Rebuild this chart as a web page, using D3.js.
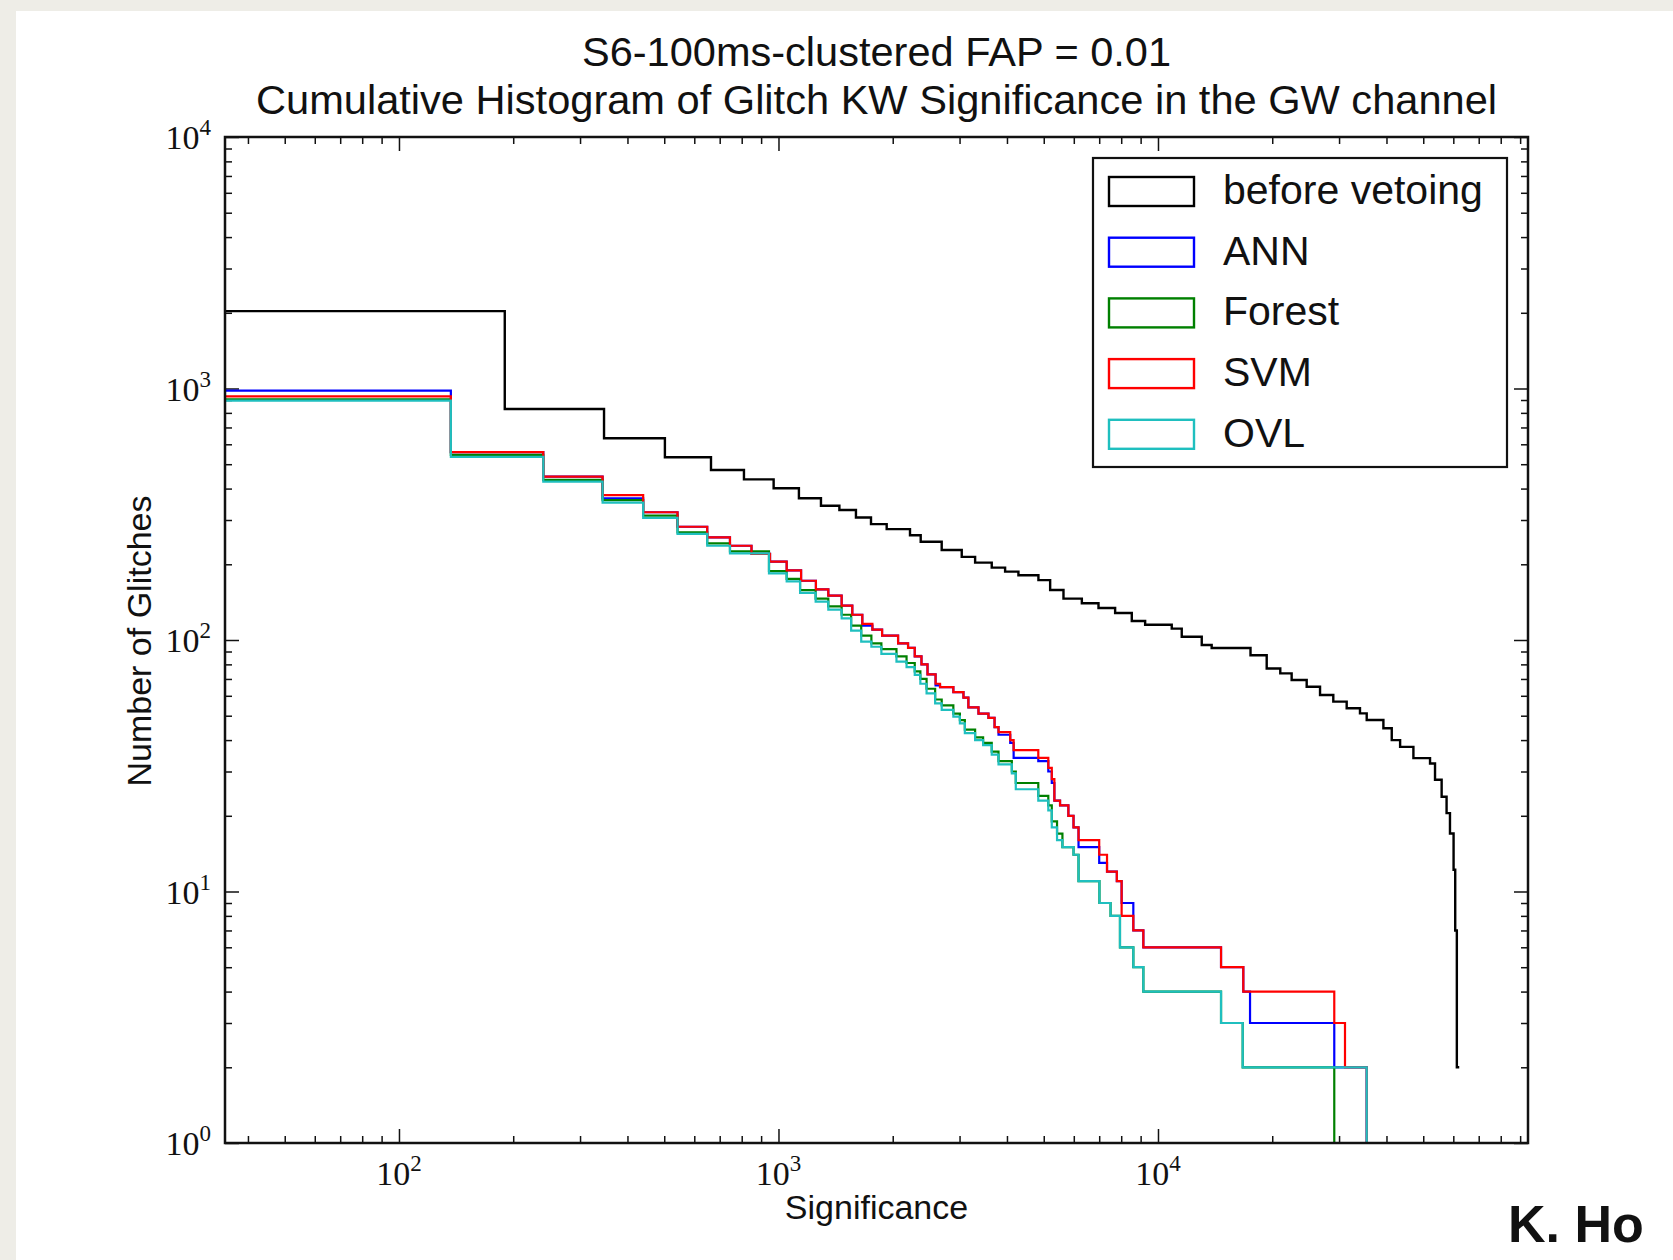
<!DOCTYPE html>
<html lang="en">
<head>
<meta charset="UTF-8">
<title>Cumulative Histogram of Glitch KW Significance</title>
<script src="https://cdn.jsdelivr.net/npm/d3@7"></script>
<style>
    body { margin: 0; background: #eeede7; }
    svg { display: block; }
    text { font-family: "Liberation Sans", Arial, sans-serif; fill: #111; }
    .tick-label { font-family: "Liberation Serif", "DejaVu Serif", serif; }
</style>
</head>
<body>
<div id="chart-space"></div>

<script>
    // each step is [left bin edge, cumulative count]; the *End value closes the last bin
    var beforeSteps = [[30, 2030], [190, 829], [347, 634], [502, 533], [664, 474], [811, 435], [971, 401],
        [1132, 366], [1294, 342], [1447, 329], [1600, 307], [1753, 289], [1928, 276], [2221, 261], [2370, 246],
        [2692, 228], [3040, 214], [3297, 203], [3647, 194], [3955, 187], [4288, 181], [4841, 173], [5198, 158],
        [5636, 146], [6300, 140], [6970, 134], [7710, 128], [8530, 119], [9250, 115], [10870, 111], [11550, 103],
        [13040, 95.5], [13850, 93], [17530, 87], [19340, 77], [21000, 73.7], [22500, 69.3], [24650, 65.2],
        [26730, 60.4], [28970, 56.9], [31420, 53.5], [34060, 51.1], [35480, 48.1], [39260, 44.6], [41300, 40],
        [43450, 37.6], [47100, 33.9], [52100, 32.3], [53700, 27.8], [55900, 23.8], [57600, 20.5], [58800, 17],
        [60100, 12.2], [60700, 7], [61300, 2]];
    var beforeEnd = 62200;

    var annSteps = [[30, 980], [137, 558], [240, 446], [344, 366], [440, 322], [542, 282], [649, 256], [745, 237],
        [849, 220], [950, 205], [1051, 189], [1147, 172], [1255, 159], [1353, 150], [1467, 137], [1565, 126],
        [1663, 114], [1768, 110], [1875, 104], [2066, 97], [2195, 93], [2286, 86], [2381, 80], [2470, 73],
        [2594, 66], [2665, 65], [2889, 62], [3072, 59], [3165, 54], [3365, 51], [3575, 49], [3710, 45], [3800, 42],
        [4080, 39], [4165, 34], [4837, 33], [5140, 30], [5250, 27], [5333, 23], [5520, 22], [5806, 20], [5990, 18],
        [6175, 15], [7000, 13], [7340, 12], [7790, 11], [8020, 9], [8610, 7], [9150, 6], [14660, 5], [16780, 4],
        [17480, 3], [29140, 2]];
    var annEnd = 35480;

    var forestSteps = [[30, 905], [137, 545], [240, 433], [344, 360], [440, 312], [542, 268], [649, 242], [745, 225],
        [944, 188], [1051, 175], [1140, 158], [1253, 146], [1353, 136], [1467, 126], [1554, 114], [1652, 104],
        [1757, 97], [1867, 92], [2046, 86], [2175, 81], [2286, 75], [2365, 70], [2456, 64], [2587, 58], [2692, 55],
        [2889, 51], [3006, 48], [3098, 44], [3297, 41], [3461, 39], [3647, 36], [3800, 33], [4120, 30], [4220, 27],
        [4837, 24], [5140, 22], [5250, 19], [5420, 17], [5600, 15], [5990, 14], [6175, 11], [7010, 9], [7500, 8],
        [7940, 6], [8610, 5], [9150, 4], [14660, 3], [16720, 2]];
    var forestEnd = 29140;

    var svmSteps = [[30, 930], [137, 558], [240, 446], [344, 377], [440, 322], [542, 282], [649, 256], [745, 237],
        [849, 220], [950, 205], [1051, 189], [1147, 172], [1255, 159], [1353, 150], [1467, 137], [1565, 126],
        [1663, 116], [1768, 110], [1875, 104], [2066, 97], [2195, 93], [2286, 86], [2381, 80], [2470, 73],
        [2594, 67], [2665, 65], [2889, 62], [3072, 59], [3165, 54], [3365, 51], [3575, 49], [3710, 45], [3800, 43],
        [4080, 40], [4165, 36.5], [4837, 34], [5140, 31], [5250, 28], [5333, 23], [5520, 22], [5806, 20], [5990, 18],
        [6175, 16], [7000, 14], [7340, 12], [7790, 11], [8020, 8], [8610, 7], [9150, 6], [14660, 5], [16780, 4],
        [29140, 3], [31100, 2]];
    var svmEnd = 35480;

    var ovlSteps = [[30, 895], [137, 535], [240, 426], [344, 352], [440, 306], [542, 264], [649, 237], [745, 221],
        [944, 184], [1051, 171], [1140, 154], [1253, 142], [1353, 132], [1467, 122], [1554, 109], [1652, 98.5],
        [1757, 94], [1867, 88], [2046, 82], [2175, 78], [2286, 72.6], [2365, 67], [2456, 61.4], [2587, 56],
        [2692, 52.7], [2889, 49.6], [3006, 46.6], [3098, 42.6], [3297, 40], [3461, 38.2], [3647, 35], [3800, 32],
        [4120, 29.5], [4220, 25.5], [4837, 23], [5140, 21], [5250, 18], [5420, 16], [5600, 15], [5990, 14],
        [6175, 11], [7010, 9], [7500, 8], [7940, 6], [8610, 5], [9150, 4], [14660, 3], [16720, 2]];
    var ovlEnd = 35480;

    var seriesNames = ["before vetoing", "ANN", "Forest", "SVM", "OVL"];
    var seriesColors = ["#000000", "#0000ff", "#008000", "#ff0000", "#1fbfbf"];
    var seriesDropToFloor = [false, true, true, true, true];

    var xTickValues = [1e2, 1e3, 1e4];
    var yTickValues = [1e0, 1e1, 1e2, 1e3, 1e4];
    var xDomain = [34.8, 94400];
    var yDomain = [1, 1e4];

    var titleLines = ["S6-100ms-clustered FAP = 0.01",
        "Cumulative Histogram of Glitch KW Significance in the GW channel"];
    var xLabel = "Significance";
    var yLabel = "Number of Glitches";

    var width = 1673;
    var height = 1260;
    var margin = {top: 137, right: 145, bottom: 117, left: 225};
    var chartWidth = width - margin.left - margin.right;
    var chartHeight = height - margin.top - margin.bottom;

    var svg = d3.select("#chart-space")
        .append("svg")
        .attr("width", width)
        .attr("height", height);

    // white slide panel on the light page
    svg.append("rect")
        .attr("x", 16).attr("y", 11)
        .attr("width", width).attr("height", height)
        .attr("fill", "#ffffff");

    var g = svg.append("g")
        .attr("transform", "translate(" + margin.left + "," + margin.top + ")");

    var xScale = d3.scaleLog().domain(xDomain).range([0, chartWidth]);
    var yScale = d3.scaleLog().domain(yDomain).range([chartHeight, 0]);

    function minorTicks(domain) {
        var out = [];
        var lo = Math.floor(Math.log10(domain[0]));
        var hi = Math.ceil(Math.log10(domain[1]));
        for (var e = lo; e < hi; e++) {
            for (var k = 2; k <= 9; k++) {
                var v = k * Math.pow(10, e);
                if (v > domain[0] && v < domain[1]) out.push(v);
            }
        }
        return out;
    }

    // ticks point inward on all four sides
    function tickGroup(axis, values, size, transform) {
        var t = g.append("g")
            .attr("transform", transform || null)
            .call(axis.tickValues(values).tickSize(-size).tickFormat(""));
        t.select(".domain").remove();
        t.selectAll("line").attr("stroke", "#111").attr("stroke-width", 1.5);
    }

    var xMinor = minorTicks(xDomain);
    var yMinor = minorTicks(yDomain);
    tickGroup(d3.axisBottom(xScale), xTickValues, 14, "translate(0," + chartHeight + ")");
    tickGroup(d3.axisBottom(xScale), xMinor, 7, "translate(0," + chartHeight + ")");
    tickGroup(d3.axisTop(xScale), xTickValues, 14);
    tickGroup(d3.axisTop(xScale), xMinor, 7);
    tickGroup(d3.axisLeft(yScale), yTickValues, 14);
    tickGroup(d3.axisLeft(yScale), yMinor, 7);
    tickGroup(d3.axisRight(yScale), yTickValues, 14, "translate(" + chartWidth + ",0)");
    tickGroup(d3.axisRight(yScale), yMinor, 7, "translate(" + chartWidth + ",0)");

    // power-of-ten tick labels
    function powLabel(sel) {
        sel.each(function(d) {
            var t = d3.select(this);
            t.append("tspan").text("10");
            t.append("tspan").attr("dy", -14).attr("font-size", 23)
                .text(Math.round(Math.log10(d)));
        });
    }

    g.selectAll(".x-label")
        .data(xTickValues)
        .join("text")
        .attr("class", "tick-label")
        .attr("x", function(d) { return xScale(d); })
        .attr("y", chartHeight + 42)
        .attr("text-anchor", "middle")
        .attr("font-size", 34)
        .call(powLabel);

    g.selectAll(".y-label")
        .data(yTickValues)
        .join("text")
        .attr("class", "tick-label")
        .attr("x", -14)
        .attr("y", function(d) { return yScale(d) + 12; })
        .attr("text-anchor", "end")
        .attr("font-size", 34)
        .call(powLabel);

    // step curves
    g.append("clipPath").attr("id", "plot-clip")
        .append("rect")
        .attr("width", chartWidth).attr("height", chartHeight);

    var stepLine = d3.line()
        .x(function(d) { return xScale(d[0]); })
        .y(function(d) { return yScale(d[1]); })
        .curve(d3.curveStepAfter);

    var allSteps = [beforeSteps, annSteps, forestSteps, svmSteps, ovlSteps];
    var allEnds = [beforeEnd, annEnd, forestEnd, svmEnd, ovlEnd];

    allSteps.forEach(function(steps, i) {
        var pts = steps.slice();
        var last = steps[steps.length - 1][1];
        pts.push([allEnds[i], last]);
        if (seriesDropToFloor[i]) pts.push([allEnds[i], yDomain[0]]);
        g.append("path")
            .attr("clip-path", "url(#plot-clip)")
            .attr("d", stepLine(pts))
            .attr("fill", "none")
            .attr("stroke", seriesColors[i])
            .attr("stroke-width", i === 0 ? 2.4 : 2.2);
    });

    // frame
    g.append("rect")
        .attr("width", chartWidth).attr("height", chartHeight)
        .attr("fill", "none")
        .attr("stroke", "#111")
        .attr("stroke-width", 2.5);

    // legend
    var legend = svg.append("g").attr("transform", "translate(1093,158)");
    legend.append("rect")
        .attr("width", 414).attr("height", 309)
        .attr("fill", "#ffffff")
        .attr("stroke", "#111")
        .attr("stroke-width", 2.2);

    var rows = legend.selectAll(".row")
        .data(seriesNames)
        .join("g")
        .attr("transform", function(d, i) { return "translate(16," + (19 + i * 60.7) + ")"; });

    rows.append("rect")
        .attr("width", 85).attr("height", 29)
        .attr("fill", "none")
        .attr("stroke", function(d, i) { return seriesColors[i]; })
        .attr("stroke-width", 2.4);

    rows.append("text")
        .attr("x", 114)
        .attr("y", 27)
        .attr("font-size", 41)
        .text(function(d) { return d; });

    // titles
    var titleWidths = [589, 1241];
    svg.selectAll(".title")
        .data(titleLines)
        .join("text")
        .attr("x", margin.left + chartWidth / 2)
        .attr("y", function(d, i) { return 66 + i * 48; })
        .attr("text-anchor", "middle")
        .attr("font-size", 41)
        .attr("textLength", function(d, i) { return titleWidths[i]; })
        .attr("lengthAdjust", "spacingAndGlyphs")
        .text(function(d) { return d; });

    svg.append("text")
        .attr("x", margin.left + chartWidth / 2)
        .attr("y", 1219)
        .attr("text-anchor", "middle")
        .attr("font-size", 34)
        .text(xLabel);

    svg.append("text")
        .attr("transform", "translate(151," + (margin.top + chartHeight / 2 + 1) + ") rotate(-90)")
        .attr("text-anchor", "middle")
        .attr("font-size", 34)
        .text(yLabel);

    // author credit in the slide corner
    svg.append("text")
        .attr("x", 1508)
        .attr("y", 1242)
        .attr("font-size", 52)
        .attr("font-weight", "bold")
        .text("K. Ho");
</script>
</body>
</html>
